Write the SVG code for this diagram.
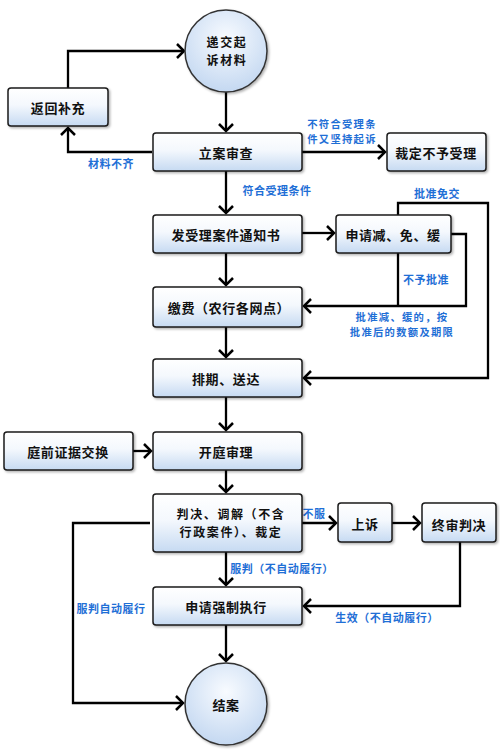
<svg xmlns="http://www.w3.org/2000/svg" width="500" height="755" viewBox="0 0 500 755">
<style>
.box{fill:url(#bg);stroke:#1a1a1a;stroke-width:1.5;filter:url(#sh)}
.circ{fill:url(#cg);stroke:#333;stroke-width:1.5;filter:url(#sh)}
.t{font-family:"Noto Sans CJK SC","Noto Sans",sans-serif;font-size:13px;font-weight:bold;fill:#111;text-anchor:middle;dominant-baseline:central;letter-spacing:0.6px}
.t2{font-size:12px;letter-spacing:1.6px}
.l{font-family:"Noto Sans CJK SC","Noto Sans",sans-serif;font-size:11px;font-weight:bold;fill:#1f6fd6;text-anchor:middle;dominant-baseline:central;letter-spacing:0.5px}
.l2{font-size:10.3px;letter-spacing:1.3px}
.c path{fill:none;stroke:#000;stroke-width:2.3}
.c path.a{marker-end:url(#ar)}
</style>
<defs>
<linearGradient id="bg" x1="0" y1="0" x2="0" y2="1">
<stop offset="0" stop-color="#ffffff"/>
<stop offset="0.45" stop-color="#f4f8fd"/>
<stop offset="1" stop-color="#c6daf2"/>
</linearGradient>
<radialGradient id="cg" cx="0.5" cy="0.35" r="0.65">
<stop offset="0" stop-color="#f8fbff"/>
<stop offset="1" stop-color="#c4d8f1"/>
</radialGradient>
<filter id="sh" x="-10%" y="-10%" width="130%" height="130%">
<feDropShadow dx="1.5" dy="1.5" stdDeviation="1" flood-color="#000" flood-opacity="0.3"/>
</filter>
<marker id="ar" markerUnits="userSpaceOnUse" markerWidth="14" markerHeight="18" refX="9" refY="8" orient="auto">
<path d="M2,1 L9,8 L2,15" fill="none" stroke="#000" stroke-width="2.5"/>
</marker>
</defs>

<g id="connectors" class="c">
<path class="a" d="M68,88 V51 H184"/>
<path class="a" d="M226,92 V131"/>
<path class="a" d="M152,152 H68 V128"/>
<path class="a" d="M302,152 H385"/>
<path class="a" d="M226,171 V213"/>
<path class="a" d="M302,233 H334"/>
<path class="a" d="M226,253 V285"/>
<path d="M398,253 V306"/>
<path class="a" d="M451,234 H466 V306 H304"/>
<path class="a" d="M398,215 V203 H488 V378 H304"/>
<path class="a" d="M226,327 V357"/>
<path class="a" d="M226,397 V430"/>
<path class="a" d="M133,451 H151"/>
<path class="a" d="M226,470 V492"/>
<path class="a" d="M302,523 H336"/>
<path class="a" d="M392,523 H420"/>
<path class="a" d="M226,552 V585"/>
<path class="a" d="M460,542 V606 H304"/>
<path class="a" d="M150,523 H73 V703 H183"/>
<path class="a" d="M226,625 V661"/>
</g>

<g id="labels">
<text class="l" x="111" y="163">材料不齐</text>
<text class="l l2" x="342" y="123">不符合受理条</text>
<text class="l l2" x="342" y="138.5">件又坚持起诉</text>
<text class="l" x="277" y="190">符合受理条件</text>
<text class="l" x="437" y="193">批准免交</text>
<text class="l" x="426" y="279">不予批准</text>
<text class="l l2" x="402" y="316">批准减、缓的，按</text>
<text class="l l2" x="402" y="331.5">批准后的数额及期限</text>
<text class="l" x="314" y="513">不服</text>
<text class="l" x="282" y="568">服判（不自动履行）</text>
<text class="l" x="111" y="608">服判自动履行</text>
<text class="l" x="387" y="617">生效（不自动履行）</text>
</g>

<g id="n_submit"><circle class="circ" cx="226" cy="51" r="41"/><text class="t t2" x="227" y="41.5">递交起</text><text class="t t2" x="227" y="59.5">诉材料</text></g>
<g id="n_return"><rect class="box" x="8" y="88" width="100" height="38" rx="3"/><text class="t" x="58" y="107">返回补充</text></g>
<g id="n_review"><rect class="box" x="153" y="133" width="149" height="38" rx="3"/><text class="t" x="226" y="152">立案审查</text></g>
<g id="n_reject"><rect class="box" x="387" y="133" width="99" height="38" rx="3"/><text class="t" x="436" y="152">裁定不予受理</text></g>
<g id="n_notice"><rect class="box" x="153" y="215" width="149" height="38" rx="3"/><text class="t" x="226" y="234">发受理案件通知书</text></g>
<g id="n_apply"><rect class="box" x="336" y="215" width="115" height="38" rx="3"/><text class="t" x="393" y="234">申请减、免、缓</text></g>
<g id="n_pay"><rect class="box" x="153" y="287" width="149" height="40" rx="3"/><text class="t" x="229" y="307">缴费（农行各网点）</text></g>
<g id="n_schedule"><rect class="box" x="153" y="359" width="149" height="38" rx="3"/><text class="t" x="226" y="378">排期、送达</text></g>
<g id="n_evidence"><rect class="box" x="4" y="432" width="129" height="38" rx="3"/><text class="t" x="68" y="451">庭前证据交换</text></g>
<g id="n_trial"><rect class="box" x="153" y="432" width="149" height="38" rx="3"/><text class="t" x="226" y="451">开庭审理</text></g>
<g id="n_judge"><rect class="box" x="153" y="494" width="149" height="58" rx="3"/><text class="t t2" x="231" y="513.5">判决、调解（不含</text><text class="t t2" x="231" y="531.5">行政案件）、裁定</text></g>
<g id="n_appeal"><rect class="box" x="338" y="503" width="54" height="39" rx="3"/><text class="t" x="365" y="523">上诉</text></g>
<g id="n_final"><rect class="box" x="422" y="503" width="74" height="39" rx="3"/><text class="t" x="459" y="524">终审判决</text></g>
<g id="n_enforce"><rect class="box" x="153" y="587" width="149" height="38" rx="3"/><text class="t" x="226" y="606">申请强制执行</text></g>
<g id="n_end"><circle class="circ" cx="226" cy="704" r="41"/><text class="t" x="226" y="704">结案</text></g>
</svg>
